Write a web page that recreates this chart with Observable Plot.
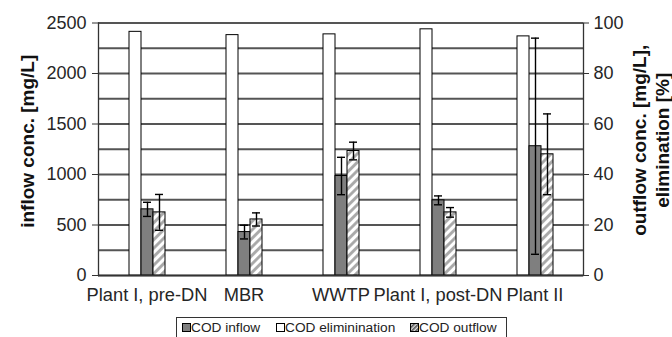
<!DOCTYPE html>
<html>
<head>
<meta charset="utf-8">
<script src="https://cdn.jsdelivr.net/npm/d3@7"></script>
<script src="https://cdn.jsdelivr.net/npm/@observablehq/plot@0.6"></script>
<style>
  html, body { margin: 0; padding: 0; background: #fff; }
  #wrap { position: relative; width: 672px; height: 337px; overflow: hidden; font-family: "Liberation Sans", Arial, sans-serif; }
  #legend { position: absolute; left: 176px; top: 317px; width: 331px; height: 24px; border: 1px solid #333; box-sizing: border-box; background: #fff; }
  .item { position: absolute; top: 2px; font-size: 13.7px; color: #222; white-space: nowrap; line-height: 16px; }
  .sw { position: absolute; top: 5px; }
</style>
</head>
<body>
<div id="wrap"></div>
<script>
// ---- data ----
const categories = ["Plant I, pre-DN", "MBR", "WWTP", "Plant I, post-DN", "Plant II"];
const codInflow = [655, 430, 985, 744, 1280];          // mg/L (left axis)
const codInflowErr = [70, 68, 185, 44, 1070];
const codElimination = [96.5, 95.2, 95.5, 97.5, 94.7];  // % (right axis)
const codOutflow = [25.0, 22.2, 49.3, 25.0, 48.0];      // mg/L (right axis)
const codOutflowErr = [7.1, 2.6, 3.5, 1.9, 16];
const leftTicks = [0, 500, 1000, 1500, 2000, 2500];
const rightTicks = [0, 20, 40, 60, 80, 100];
const gridValues = [0, 250, 500, 750, 1000, 1250, 1500, 1750, 2000, 2250, 2500];
const seriesNames = ["COD inflow", "COD eliminination", "COD outflow"];

// right axis (0-100) shares the left axis pixel range (0-2500)
const k = 2500 / 100;
const order = ["elim", "inflow", "outflow"];

const elimRows = categories.map((c, i) => ({cat: c, s: "elim", v: codElimination[i] * k}));
const inflowRows = categories.map((c, i) => ({cat: c, s: "inflow", v: codInflow[i], lo: codInflow[i] - codInflowErr[i], hi: codInflow[i] + codInflowErr[i]}));
const outflowRows = categories.map((c, i) => ({cat: c, s: "outflow", v: codOutflow[i] * k, lo: (codOutflow[i] - codOutflowErr[i]) * k, hi: (codOutflow[i] + codOutflowErr[i]) * k}));
const errRows = inflowRows.concat(outflowRows);
const gridRows = gridValues.map(v => ({v}));

const font = "'Liberation Sans', Arial, sans-serif";

const svg = Plot.plot({
  width: 672,
  height: 310,
  marginLeft: 97,
  marginRight: 88.5,
  marginTop: 22.5,
  marginBottom: 35,
  style: {fontFamily: font, color: "#262626", overflow: "visible"},
  fx: {domain: categories, padding: 0, label: null},
  x: {domain: order, paddingInner: 0, paddingOuter: 2.48, axis: null},
  y: {domain: [0, 2500], axis: null},
  marks: [
    Plot.ruleY(gridRows, {y: "v", stroke: "#555", strokeWidth: 2}),
    Plot.barY(elimRows, {fx: "cat", x: "s", y: "v", fill: "white", stroke: "black", strokeWidth: 1}),
    Plot.barY(inflowRows, {fx: "cat", x: "s", y: "v", fill: "#7f7f7f", stroke: "black", strokeWidth: 1}),
    Plot.barY(outflowRows, {fx: "cat", x: "s", y: "v", fill: "url(#hatch)", stroke: "black", strokeWidth: 1}),
    Plot.ruleX(errRows, {fx: "cat", x: "s", y1: "lo", y2: "hi", stroke: "black", strokeWidth: 1.4}),
    Plot.tickY(errRows, {fx: "cat", x: "s", y: "lo", stroke: "black", strokeWidth: 1.4, insetLeft: 2, insetRight: 2}),
    Plot.tickY(errRows, {fx: "cat", x: "s", y: "hi", stroke: "black", strokeWidth: 1.4, insetLeft: 2, insetRight: 2}),
    Plot.ruleY([0], {stroke: "#333", strokeWidth: 1.5}),
    Plot.frame({anchor: "left", facetAnchor: "left", stroke: "#333", strokeWidth: 1.3}),
    Plot.frame({anchor: "right", facetAnchor: "right", stroke: "#333", strokeWidth: 1.3}),
    Plot.axisY({anchor: "left", ticks: leftTicks, tickFormat: d3.format("d"), tickSize: 6, tickPadding: 6, fontSize: 18, label: null, stroke: "#333"}),
    Plot.axisY({anchor: "right", ticks: rightTicks.map(t => t * k), tickFormat: d => d3.format("d")(d / k), tickSize: 5, tickPadding: 5, fontSize: 18, label: null, stroke: "#333"}),
    Plot.axisFx({anchor: "bottom", tickSize: 0, tickPadding: 12, fontSize: 18.3, label: null}),
    Plot.text(["inflow conc. [mg/L]"], {fx: () => categories[0], frameAnchor: "left", rotate: -90, dx: -71, dy: -8, fontSize: 19, fontWeight: "bold", fill: "#111", textAnchor: "middle"}),
    Plot.text(["outflow conc. [mg/L],\nelimination [%]"], {fx: () => categories[categories.length - 1], frameAnchor: "right", rotate: -90, dx: 66.5, dy: -9, fontSize: 19, fontWeight: "bold", fill: "#111", textAnchor: "middle", lineHeight: 1.25})
  ]
});

const pat = `<pattern id="hatch" width="6" height="6" patternUnits="userSpaceOnUse" patternTransform="rotate(45)">
  <rect width="6" height="6" fill="white"></rect>
  <line x1="1.5" y1="0" x2="1.5" y2="6" stroke="#a6a6a6" stroke-width="2.8"></line>
</pattern>`;
d3.select(svg).insert("defs", ":first-child").html(pat);

const wrap = document.getElementById("wrap");
wrap.appendChild(svg);

// legend
const legend = document.createElement("div");
legend.id = "legend";
const swatches = [
  {fill: "#7f7f7f", left: 5, textLeft: 14},
  {fill: "white", left: 99, textLeft: 108},
  {fill: "url(#hatchL)", left: 233, textLeft: 242}
];
swatches.forEach((s, i) => {
  const sw = document.createElementNS("http://www.w3.org/2000/svg", "svg");
  sw.setAttribute("width", 9); sw.setAttribute("height", 9);
  sw.setAttribute("class", "sw");
  sw.style.left = s.left + "px";
  sw.innerHTML = (i === 2 ? `<defs><pattern id="hatchL" width="3" height="3" patternUnits="userSpaceOnUse" patternTransform="rotate(45)"><rect width="3" height="3" fill="#ddd"></rect><line x1="0.8" y1="0" x2="0.8" y2="3" stroke="#555" stroke-width="1.6"></line></pattern></defs>` : "") +
    `<rect x="0.5" y="0.5" width="8" height="8" fill="${s.fill}" stroke="black" stroke-width="1"></rect>`;
  legend.appendChild(sw);
  const t = document.createElement("span");
  t.className = "item";
  t.style.left = s.textLeft + "px";
  t.textContent = seriesNames[i];
  legend.appendChild(t);
});
wrap.appendChild(legend);
</script>
</body>
</html>
